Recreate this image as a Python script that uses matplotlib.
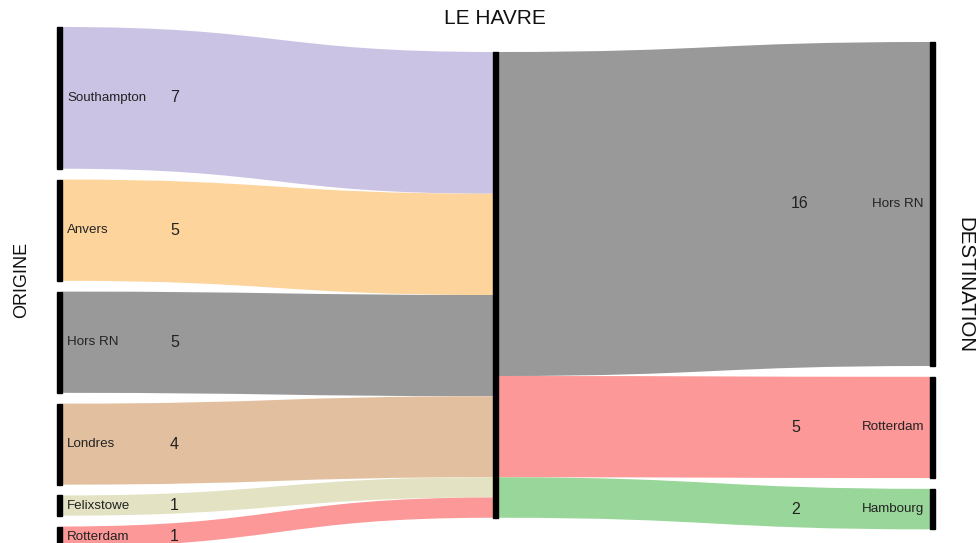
import matplotlib.pyplot as plt
from matplotlib.path import Path
from matplotlib.patches import PathPatch, Rectangle

# data
origins = ["Southampton", "Anvers", "Hors RN", "Londres", "Felixstowe", "Rotterdam"]
origin_values = [7, 5, 5, 4, 1, 1]
origin_colors = ["#cbc3e3", "#fdd49b", "#999999", "#e2c09f", "#e3e3c4", "#fc9898"]

hub = "LE HAVRE"

destinations = ["Hors RN", "Rotterdam", "Hambourg"]
dest_values = [16, 5, 2]
dest_colors = ["#999999", "#fc9898", "#99d699"]

# layout in pixel units (figure is 978 x 543)
W, H = 978, 543
SCALE = 20.25      # px per unit
GAP = 10.8
BAR_W = 5
X_LEFT, X_HUB, X_RIGHT = 57, 493, 930
TOP_LEFT, TOP_HUB, TOP_RIGHT = 27, 52, 42

FONT = "Liberation Sans"


def stack(values, top, gap):
    spans = []
    y = top
    for v in values:
        spans.append((y, y + v * SCALE))
        y += v * SCALE + gap
    return spans


def flow(ax, x0, t0, b0, x1, t1, b1, color):
    xm = (x0 + x1) / 2
    verts = [
        (x0, t0), (xm, t0), (xm, t1), (x1, t1),
        (x1, b1),
        (xm, b1), (xm, b0), (x0, b0),
        (x0, t0),
    ]
    codes = [Path.MOVETO, Path.CURVE4, Path.CURVE4, Path.CURVE4,
             Path.LINETO,
             Path.CURVE4, Path.CURVE4, Path.CURVE4,
             Path.CLOSEPOLY]
    ax.add_patch(PathPatch(Path(verts, codes), facecolor=color, edgecolor="none", zorder=1))


fig = plt.figure(figsize=(W / 100, H / 100), dpi=100)
fig.patch.set_facecolor("white")
ax = fig.add_axes([0, 0, 1, 1])
ax.set_xlim(0, W)
ax.set_ylim(H, 0)
ax.axis("off")

left_spans = stack(origin_values, TOP_LEFT, GAP)
hub_in = stack(origin_values, TOP_HUB, 0)
hub_out = stack(dest_values, TOP_HUB, 0)
right_spans = stack(dest_values, TOP_RIGHT, GAP)

# origin -> hub
for name, v, c, (t0, b0), (t1, b1) in zip(origins, origin_values, origin_colors, left_spans, hub_in):
    flow(ax, X_LEFT + BAR_W, t0, b0, X_HUB, t1, b1, c)
    ax.add_patch(Rectangle((X_LEFT, t0), BAR_W, b0 - t0, color="black", zorder=3))
    yc = (t0 + b0) / 2
    ax.text(X_LEFT + 10, yc, name, fontsize=9.6, family=FONT, color="#222222",
            ha="left", va="center", zorder=4)
    ax.text(X_LEFT + 113, yc, str(v), fontsize=11.5, family=FONT, color="#222222",
            ha="left", va="center", zorder=4)

# hub -> destinations
for name, v, c, (t0, b0), (t1, b1) in zip(destinations, dest_values, dest_colors, hub_out, right_spans):
    flow(ax, X_HUB + BAR_W, t0, b0, X_RIGHT, t1, b1, c)
    ax.add_patch(Rectangle((X_RIGHT, t1), BAR_W, b1 - t1, color="black", zorder=3))
    yc = (t1 + b1) / 2
    ax.text(X_RIGHT - 6, yc, name, fontsize=9.6, family=FONT, color="#222222",
            ha="right", va="center", zorder=4)
    ax.text(X_RIGHT - 139, yc, str(v), fontsize=11.5, family=FONT, color="#222222",
            ha="left", va="center", zorder=4)

hub_top = hub_in[0][0]
hub_bot = hub_in[-1][1]
ax.add_patch(Rectangle((X_HUB, hub_top), BAR_W, hub_bot - hub_top, color="black", zorder=3))

ax.text(X_HUB + 2, 18, hub, fontsize=15, family=FONT, color="#111111", ha="center", va="center")
ax.text(22, 280, "ORIGINE", fontsize=13, family=FONT, color="#111111",
        rotation=90, ha="center", va="center")
ax.text(965, 285, "DESTINATION", fontsize=14.8, family=FONT, color="#111111",
        rotation=-90, ha="center", va="center")

fig.savefig("out.png", dpi=100, facecolor="white")
plt.close(fig)
